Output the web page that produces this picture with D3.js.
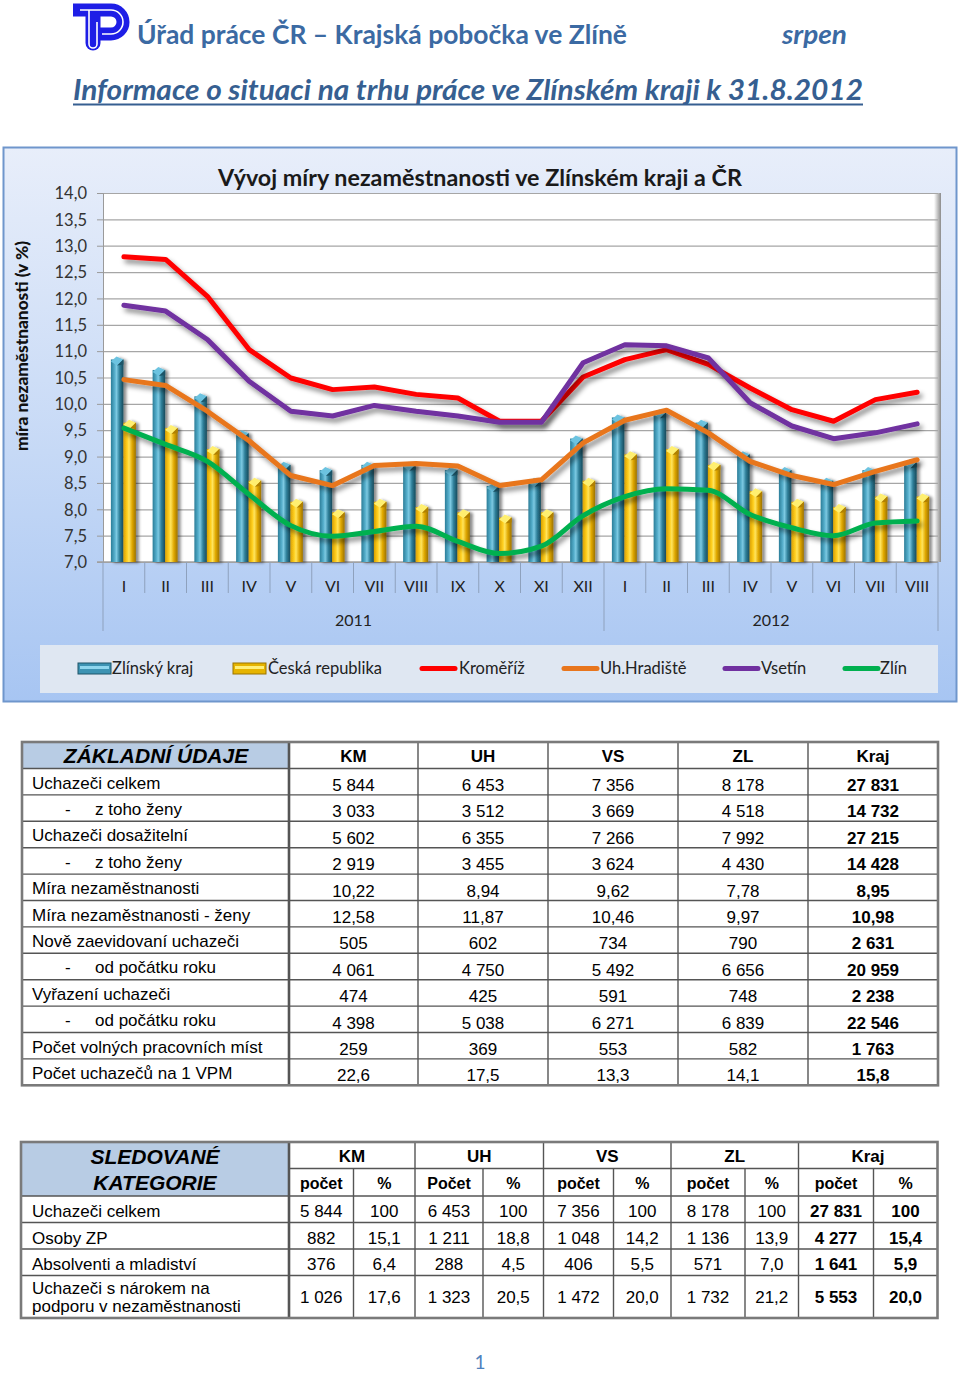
<!DOCTYPE html>
<html><head><meta charset="utf-8">
<script src="https://cdn.jsdelivr.net/npm/d3@7"></script>
<style>body{margin:0;background:#fff}svg{display:block}</style>
</head><body>
<script>
// ---------- DATA ----------
const monthLabels = ["I","II","III","IV","V","VI","VII","VIII","IX","X","XI","XII","I","II","III","IV","V","VI","VII","VIII"];
const yearLabels = ["2011","2012"];
const yearSpans = [[0,12],[12,20]];
const zlinskyKraj = [10.9,10.7,10.2,9.5,8.9,8.8,8.9,8.9,8.8,8.5,8.6,9.4,9.8,9.9,9.7,9.1,8.8,8.6,8.8,8.95];
const ceskaRepublika = [9.7,9.6,9.2,8.6,8.2,8.0,8.2,8.1,8.0,7.9,8.0,8.6,9.1,9.2,8.9,8.4,8.2,8.1,8.3,8.3];
const kromeriz = [12.79,12.74,12.04,11.03,10.49,10.27,10.32,10.18,10.11,9.67,9.67,10.51,10.84,11.03,10.75,10.30,9.89,9.67,10.08,10.22];
const uhHradiste = [10.46,10.35,9.86,9.3,8.64,8.45,8.83,8.87,8.82,8.45,8.56,9.26,9.69,9.88,9.45,8.91,8.64,8.47,8.72,8.94];
const vsetin = [11.87,11.76,11.22,10.43,9.86,9.77,9.97,9.86,9.77,9.65,9.65,10.78,11.12,11.1,10.87,10.02,9.58,9.34,9.45,9.62];
const zlin = [9.54,9.23,8.91,8.28,7.69,7.49,7.58,7.68,7.39,7.16,7.30,7.88,8.24,8.39,8.36,7.90,7.65,7.50,7.74,7.78];
const yTicks = [7,7.5,8,8.5,9,9.5,10,10.5,11,11.5,12,12.5,13,13.5,14];
const legendLabels = ["Zlínský kraj","Česká republika","Kroměříž","Uh.Hradiště","Vsetín","Zlín"];

const t1Labels = ["Uchazeči celkem","z toho ženy","Uchazeči dosažitelní","z toho ženy","Míra nezaměstnanosti","Míra nezaměstnanosti - ženy","Nově zaevidovaní uchazeči","od počátku roku","Vyřazení uchazeči","od počátku roku","Počet volných pracovních míst","Počet uchazečů na 1 VPM"];
const t1Indent = [0,1,0,1,0,0,0,1,0,1,0,0];
const t1Heads = ["KM","UH","VS","ZL","Kraj"];
const t1KM = ["5 844","3 033","5 602","2 919","10,22","12,58","505","4 061","474","4 398","259","22,6"];
const t1UH = ["6 453","3 512","6 355","3 455","8,94","11,87","602","4 750","425","5 038","369","17,5"];
const t1VS = ["7 356","3 669","7 266","3 624","9,62","10,46","734","5 492","591","6 271","553","13,3"];
const t1ZL = ["8 178","4 518","7 992","4 430","7,78","9,97","790","6 656","748","6 839","582","14,1"];
const t1Kraj = ["27 831","14 732","27 215","14 428","8,95","10,98","2 631","20 959","2 238","22 546","1 763","15,8"];

const t2Labels = [["Uchazeči celkem"],["Osoby ZP"],["Absolventi a mladiství"],["Uchazeči s nárokem na","podporu v nezaměstnanosti"]];
const t2Heads = ["KM","UH","VS","ZL","Kraj"];
const t2Sub = ["počet","%","Počet","%","počet","%","počet","%","počet","%"];
const t2KMcount = ["5 844","882","376","1 026"], t2KMpct = ["100","15,1","6,4","17,6"];
const t2UHcount = ["6 453","1 211","288","1 323"], t2UHpct = ["100","18,8","4,5","20,5"];
const t2VScount = ["7 356","1 048","406","1 472"], t2VSpct = ["100","14,2","5,5","20,0"];
const t2ZLcount = ["8 178","1 136","571","1 732"], t2ZLpct = ["100","13,9","7,0","21,2"];
const t2Krajcount = ["27 831","4 277","1 641","5 553"], t2Krajpct = ["100","15,4","5,9","20,0"];

// ---------- SETUP ----------
const FONT = "Lato, 'Open Sans', sans-serif";
const ARIAL = "'Liberation Sans', Arial, sans-serif";
const svg = d3.select("body").append("svg").attr("width",960).attr("height",1374);
const defs = svg.append("defs");
function lg(id, stops, vertical){
  const g = defs.append("linearGradient").attr("id",id);
  if(vertical) g.attr("x1",0).attr("y1",0).attr("x2",0).attr("y2",1);
  stops.forEach(s=>g.append("stop").attr("offset",s[0]).attr("stop-color",s[1]));
}
lg("bgGrad",[["0%","#e8eefa"],["55%","#c6d9f6"],["100%","#a7c5f2"]],true);
lg("blueBar",[["0%","#2b7d98"],["30%","#55aecb"],["45%","#7cc9e2"],["70%","#2f7f99"],["100%","#174a5b"]]);
lg("yellowBar",[["0%","#d9a000"],["30%","#ffcf1f"],["45%","#ffe45c"],["70%","#e0a800"],["100%","#9c7200"]]);
lg("wallShade",[["0%","#ffffff"],["100%","#8c8c8c"]]);
const f1 = defs.append("filter").attr("id","lineShadow").attr("x","-10%").attr("y","-20%").attr("width","130%").attr("height","160%");
f1.append("feDropShadow").attr("dx",3).attr("dy",4).attr("stdDeviation",2.5).attr("flood-color","#000").attr("flood-opacity",0.45);
const f2 = defs.append("filter").attr("id","barShadow").attr("x","-30%").attr("y","-10%").attr("width","180%").attr("height","130%");
f2.append("feDropShadow").attr("dx",3).attr("dy",1).attr("stdDeviation",1.8).attr("flood-color","#000").attr("flood-opacity",0.45);

const loc = d3.formatLocale({decimal:",",thousands:" ",grouping:[3],currency:["",""]});
const fmt1 = loc.format(".1f");

// ---------- HEADER ----------
const logo = svg.append("g");
logo.append("path").attr("d","M73,10 H111 A12,12 0 0 1 111,34 H99").attr("fill","none").attr("stroke","#1e1ee6").attr("stroke-width",13);
logo.append("path").attr("d","M93,12 V43").attr("fill","none").attr("stroke","#1e1ee6").attr("stroke-width",15).attr("stroke-linecap","round");
logo.append("path").attr("d","M80,10 H111 A12,12 0 0 1 111,34 H102").attr("fill","none").attr("stroke","#fff").attr("stroke-width",1.6);
logo.append("path").attr("d","M89,10 V44 A4,4 0 0 0 97,44 V22").attr("fill","none").attr("stroke","#fff").attr("stroke-width",1.6);

svg.append("text").attr("x",137).attr("y",44).attr("font-family",FONT).attr("font-weight","bold").attr("font-size",26)
  .attr("fill","#3b6aa3").attr("textLength",490).attr("lengthAdjust","spacingAndGlyphs").text("Úřad práce ČR – Krajská pobočka ve Zlíně");
svg.append("text").attr("x",782).attr("y",44).attr("font-family",FONT).attr("font-weight","bold").attr("font-style","italic").attr("font-size",26)
  .attr("fill","#3b6aa3").attr("textLength",65).attr("lengthAdjust","spacingAndGlyphs").text("srpen");
svg.append("text").attr("x",73).attr("y",100).attr("font-family",FONT).attr("font-weight","bold").attr("font-style","italic").attr("font-size",28)
  .attr("fill","#365f91").attr("textLength",790).attr("lengthAdjust","spacingAndGlyphs").text("Informace o situaci na trhu práce ve Zlínském kraji k 31.8.2012");
svg.append("line").attr("x1",73).attr("x2",863).attr("y1",104.5).attr("y2",104.5).attr("stroke","#365f91").attr("stroke-width",2);

// ---------- CHART ----------
svg.append("rect").attr("x",3.5).attr("y",147.5).attr("width",953).attr("height",554).attr("fill","url(#bgGrad)").attr("stroke","#6f96cc").attr("stroke-width",2);
svg.append("text").attr("x",480).attr("y",186).attr("text-anchor","middle").attr("font-family",FONT).attr("font-weight","bold").attr("font-size",22)
  .attr("fill","#1a1a1a").attr("textLength",524).attr("lengthAdjust","spacingAndGlyphs").text("Vývoj míry nezaměstnanosti ve Zlínském kraji a ČR");
svg.append("text").attr("transform","translate(28,346) rotate(-90)").attr("text-anchor","middle").attr("font-family",FONT).attr("font-weight","900")
  .attr("font-size",17).attr("fill","#111").attr("textLength",210).attr("lengthAdjust","spacingAndGlyphs").text("míra nezaměstnanosti (v %)");

const x = d3.scaleBand().domain(d3.range(monthLabels.length)).range([103,938]);
const xs = d3.scaleBand().domain(["zk","cr"]).range([-13,12]);
const y = d3.scaleLinear().domain([7,14]).range([562,193]);
const cx = i => x(i) + x.bandwidth()/2;

// wall
svg.append("rect").attr("x",103).attr("y",193).attr("width",835).attr("height",369).attr("fill","#fff");
svg.append("rect").attr("x",934).attr("y",193).attr("width",7).attr("height",369).attr("fill","url(#wallShade)");
// grid
svg.append("g").attr("transform","translate(103,0)")
  .call(d3.axisLeft(y).tickValues(yTicks).tickSize(-835).tickFormat(""))
  .call(g=>g.select(".domain").remove())
  .call(g=>g.selectAll("line").attr("stroke","#a6a6a6").attr("stroke-width",1.2));
// y axis
svg.append("g").attr("transform","translate(103,0)")
  .call(d3.axisLeft(y).tickValues(yTicks).tickSize(6).tickPadding(10).tickFormat(fmt1))
  .call(g=>g.select(".domain").attr("stroke","#9a9a9a"))
  .call(g=>g.selectAll("line").attr("stroke","#9a9a9a"))
  .call(g=>g.selectAll("text").attr("font-family",FONT).attr("font-size",16.5).attr("fill","#333").attr("dy","0.35em"));
// floor line
svg.append("line").attr("x1",97).attr("x2",938).attr("y1",y(7)).attr("y2",y(7)).attr("stroke","#a0a0a0").attr("stroke-width",1.5);

// category axis separators
const sepG = svg.append("g");
d3.range(monthLabels.length+1).forEach(i=>{
  const xx = i<monthLabels.length ? x(i) : x(monthLabels.length-1)+x.bandwidth();
  const isYear = (i===0 || i===12 || i===20);
  sepG.append("line").attr("x1",xx).attr("x2",xx).attr("y1",y(7)).attr("y2",isYear?631:593).attr("stroke","#8ea1bd").attr("stroke-width",1);
});
svg.append("g").selectAll("text").data(monthLabels).join("text")
  .attr("x",(d,i)=>cx(i)).attr("y",592).attr("text-anchor","middle").attr("font-family",FONT).attr("font-size",16).attr("fill","#222").text(d=>d);
svg.append("g").selectAll("text").data(yearLabels).join("text")
  .attr("x",(d,i)=>(x(yearSpans[i][0]) + x(yearSpans[i][1]-1)+x.bandwidth())/2).attr("y",626).attr("text-anchor","middle")
  .attr("font-family",FONT).attr("font-size",16).attr("fill","#222").text(d=>d);

// bars
function drawBars(data, key, grad, capLight, capDark){
  const g = svg.append("g").attr("filter","url(#barShadow)");
  const w = xs.bandwidth();
  data.forEach((v,i)=>{
    const x0 = cx(i)+xs(key), y0 = y(v);
    g.append("rect").attr("x",x0).attr("y",y0+3).attr("width",w).attr("height",y(7)-y0-3).attr("fill",grad);
    g.append("path").attr("d",`M${x0},${y0+5} L${x0+w*0.45},${y0} L${x0+w},${y0+3} L${x0+w*0.5},${y0+9} Z`).attr("fill",capLight);
    g.append("path").attr("d",`M${x0+w*0.5},${y0+9} L${x0+w},${y0+3} L${x0+w},${y0+8} Z`).attr("fill",capDark);
  });
}
drawBars(zlinskyKraj,"zk","url(#blueBar)","#6cc3e0","#1d5567");
drawBars(ceskaRepublika,"cr","url(#yellowBar)","#ffef70","#b08000");

// lines
const lineLin = d3.line().x((d,i)=>cx(i)).y(d=>y(d));
const lineSm = d3.line().x((d,i)=>cx(i)).y(d=>y(d)).curve(d3.curveMonotoneX);
const series = [
  {data:kromeriz,color:"#ff0000",gen:lineLin},
  {data:uhHradiste,color:"#e8761e",gen:lineLin},
  {data:vsetin,color:"#7030a0",gen:lineLin},
  {data:zlin,color:"#00b050",gen:lineSm}
];
series.forEach(s=>{
  svg.append("path").attr("d",s.gen(s.data)).attr("fill","none").attr("stroke",s.color).attr("stroke-width",5)
    .attr("stroke-linejoin","round").attr("stroke-linecap","round").attr("filter","url(#lineShadow)");
});

// legend
svg.append("rect").attr("x",40).attr("y",645).attr("width",898).attr("height",48).attr("fill","#dfe7f2");
const legX = [78,233,420,562,723,843];
const legTX = [112,268,459,600,761,880];
const legKind = ["bar","bar","line","line","line","line"];
const legFill = ["url(#blueBar)","url(#yellowBar)","#ff0000","#e8761e","#7030a0","#00b050"];
legendLabels.forEach((lab,i)=>{
  if(legKind[i]==="bar"){
    svg.append("rect").attr("x",legX[i]).attr("y",663).attr("width",33).attr("height",11).attr("fill",i===0?"#3d93b3":"#e6b400").attr("stroke",i===0?"#1f5568":"#9a7400").attr("stroke-width",1);
    svg.append("rect").attr("x",legX[i]+2).attr("y",666).attr("width",29).attr("height",3).attr("fill",i===0?"#8fd6ee":"#fff07a");
  } else {
    svg.append("line").attr("x1",legX[i]+2).attr("x2",legX[i]+35).attr("y1",668.5).attr("y2",668.5).attr("stroke",legFill[i]).attr("stroke-width",5).attr("stroke-linecap","round");
  }
  svg.append("text").attr("x",legTX[i]).attr("y",674).attr("font-family",FONT).attr("font-size",16.5).attr("fill","#222").text(lab);
});

// ---------- TABLE 1 ----------
const t1Cols = [22,289,418,548,678,808,938];
const t1Top = 742, t1HeadB = 768.5, t1RowH = 26.4;
const t1Cols5 = [t1KM,t1UH,t1VS,t1ZL,t1Kraj];
const t1Bottom = t1HeadB + t1RowH*t1Labels.length;
const T1 = svg.append("g");
T1.append("rect").attr("x",t1Cols[0]).attr("y",t1Top).attr("width",t1Cols[1]-t1Cols[0]).attr("height",t1HeadB-t1Top).attr("fill","#b8cce4");
d3.range(t1Labels.length).forEach(r=>{
  T1.append("line").attr("x1",t1Cols[0]).attr("x2",t1Cols[6]).attr("y1",t1HeadB+r*t1RowH).attr("y2",t1HeadB+r*t1RowH).attr("stroke","#555").attr("stroke-width",1.4);
});
t1Cols.slice(1,6).forEach((c,i)=>{
  T1.append("line").attr("x1",c).attr("x2",c).attr("y1",t1Top).attr("y2",t1Bottom).attr("stroke","#555").attr("stroke-width",i===0?2.6:1.4);
});
T1.append("rect").attr("x",t1Cols[0]).attr("y",t1Top).attr("width",t1Cols[6]-t1Cols[0]).attr("height",t1Bottom-t1Top).attr("fill","none").attr("stroke","#7a7a7a").attr("stroke-width",2.6);
T1.append("text").attr("x",156).attr("y",763).attr("text-anchor","middle").attr("font-family",ARIAL).attr("font-weight","bold").attr("font-style","italic").attr("font-size",21).attr("fill","#000").text("ZÁKLADNÍ ÚDAJE");
t1Heads.forEach((h,i)=>{
  T1.append("text").attr("x",(t1Cols[i+1]+t1Cols[i+2])/2).attr("y",762).attr("text-anchor","middle").attr("font-family",ARIAL).attr("font-weight","bold").attr("font-size",17).text(h);
});
t1Labels.forEach((lab,r)=>{
  const top = t1HeadB + r*t1RowH;
  if(t1Indent[r]){
    T1.append("text").attr("x",65).attr("y",top+20).attr("font-family",ARIAL).attr("font-size",17).text("-");
    T1.append("text").attr("x",95).attr("y",top+20).attr("font-family",ARIAL).attr("font-size",17).text(lab);
  } else {
    T1.append("text").attr("x",32).attr("y",top+20).attr("font-family",ARIAL).attr("font-size",17).text(lab);
  }
  t1Cols5.forEach((col,c)=>{
    T1.append("text").attr("x",(t1Cols[c+1]+t1Cols[c+2])/2).attr("y",top+22.5).attr("text-anchor","middle").attr("font-family",ARIAL)
      .attr("font-size",17).attr("font-weight",c===4?"bold":"normal").text(col[r]);
  });
});

// ---------- TABLE 2 ----------
const t2Cols = [21,289,353.5,415,483,543.5,613.5,671,745,798.5,873.5,937.5];
const t2Rows = [1142,1168.5,1196,1222.5,1249,1275.5,1318];
const t2Data = [[t2KMcount,t2KMpct],[t2UHcount,t2UHpct],[t2VScount,t2VSpct],[t2ZLcount,t2ZLpct],[t2Krajcount,t2Krajpct]];
const T2 = svg.append("g");
T2.append("rect").attr("x",t2Cols[0]).attr("y",t2Rows[0]).attr("width",t2Cols[1]-t2Cols[0]).attr("height",t2Rows[2]-t2Rows[0]).attr("fill","#b8cce4");
T2.append("line").attr("x1",t2Cols[1]).attr("x2",t2Cols[11]).attr("y1",t2Rows[1]).attr("y2",t2Rows[1]).attr("stroke","#555").attr("stroke-width",1.4);
[2,3,4,5].forEach(r=>T2.append("line").attr("x1",t2Cols[0]).attr("x2",t2Cols[11]).attr("y1",t2Rows[r]).attr("y2",t2Rows[r]).attr("stroke","#555").attr("stroke-width",1.4));
t2Cols.slice(1,11).forEach((c,i)=>{
  const isGroup = (i%2===0);
  T2.append("line").attr("x1",c).attr("x2",c).attr("y1",isGroup?t2Rows[0]:t2Rows[1]).attr("y2",t2Rows[6]).attr("stroke","#555").attr("stroke-width",i===0?2.6:1.4);
});
T2.append("rect").attr("x",t2Cols[0]).attr("y",t2Rows[0]).attr("width",t2Cols[11]-t2Cols[0]).attr("height",t2Rows[6]-t2Rows[0]).attr("fill","none").attr("stroke","#7a7a7a").attr("stroke-width",2.6);
T2.append("text").attr("x",155).attr("y",1164).attr("text-anchor","middle").attr("font-family",ARIAL).attr("font-weight","bold").attr("font-style","italic").attr("font-size",21).text("SLEDOVANÉ");
T2.append("text").attr("x",155).attr("y",1189.5).attr("text-anchor","middle").attr("font-family",ARIAL).attr("font-weight","bold").attr("font-style","italic").attr("font-size",21).text("KATEGORIE");
t2Heads.forEach((h,i)=>{
  T2.append("text").attr("x",(t2Cols[1+2*i]+t2Cols[3+2*i])/2).attr("y",1162).attr("text-anchor","middle").attr("font-family",ARIAL).attr("font-weight","bold").attr("font-size",17).text(h);
});
t2Sub.forEach((h,i)=>{
  T2.append("text").attr("x",(t2Cols[1+i]+t2Cols[2+i])/2).attr("y",1189).attr("text-anchor","middle").attr("font-family",ARIAL).attr("font-weight","bold").attr("font-size",16).text(h);
});
t2Labels.forEach((lab,r)=>{
  const top = t2Rows[2+r];
  if(lab.length===1){
    T2.append("text").attr("x",32).attr("y",top+21).attr("font-family",ARIAL).attr("font-size",17).text(lab[0]);
  } else {
    T2.append("text").attr("x",32).attr("y",1294).attr("font-family",ARIAL).attr("font-size",17).text(lab[0]);
    T2.append("text").attr("x",32).attr("y",1311.5).attr("font-family",ARIAL).attr("font-size",17).text(lab[1]);
  }
  const by = lab.length===1 ? top+21 : 1303;
  t2Data.forEach((pair,g)=>{
    pair.forEach((col,k)=>{
      const ci = 1+2*g+k;
      T2.append("text").attr("x",(t2Cols[ci]+t2Cols[ci+1])/2).attr("y",by).attr("text-anchor","middle").attr("font-family",ARIAL)
        .attr("font-size",17).attr("font-weight",g===4?"bold":"normal").text(col[r]);
    });
  });
});

// page number
svg.append("text").attr("x",480).attr("y",1369).attr("text-anchor","middle").attr("font-family",FONT).attr("font-size",19).attr("fill","#4f81bd").text("1");
</script>
</body></html>
